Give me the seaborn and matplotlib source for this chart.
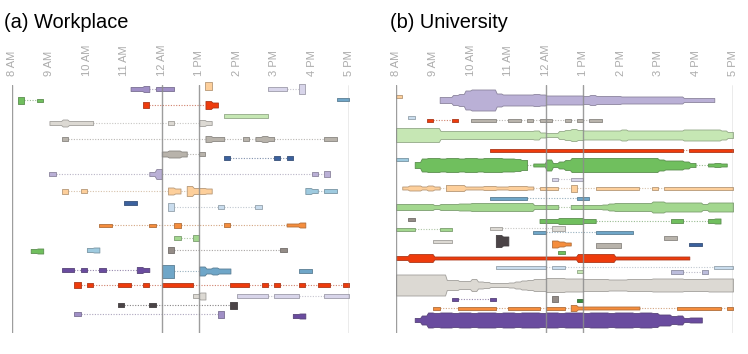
import numpy as np
import matplotlib
matplotlib.use("Agg")
import matplotlib.pyplot as plt
import matplotlib.colors as mcolors
import seaborn as sns

sns.set_theme(style="white")
plt.rcParams["font.family"] = ["Liberation Sans", "DejaVu Sans"]

# ---------------- axis labels ----------------
hours = list(range(8, 18))
hour_labels = ["8 AM", "9 AM", "10 AM", "11 AM", "12 AM",
               "1 PM", "2 PM", "3 PM", "4 PM", "5 PM"]
marker_hours = [8, 12, 13, 17]
panel_titles = ["(a) Workplace", "(b) University"]
SLOTS_PER_HOUR = 6          # activity recorded in 10-minute slots from 8 AM

# ---------------- colours ----------------
LORANGE, ORANGE, RED = "#fdcf9b", "#f58d3d", "#ee3b0c"
GREEN, MGREEN, LGREEN, DGREEN = "#70bf5e", "#a3d78f", "#c6e7b4", "#3a8d3e"
BLUE, LBLUE, PBLUE, DBLUE = "#6fa6c8", "#9ecadf", "#c9dced", "#3b619e"
LAV, MPURPLE, DPURPLE, LLAV, PLAV = "#bab0d6", "#a08fc6", "#6a4c9f", "#d8d5ea", "#bcbddc"
LGRAY, GRAY, TAUPE, CHAR = "#dcd9d3", "#b8b3ab", "#948c87", "#4b4447"

# ---------------- (a) Workplace ----------------
# row position (from top), colour, segments = (first 10-min slot, activity per slot)
work_rows = [1, 4, 4, 14, 15, 20, 31, 38, 54, 69, 73, 89, 106, 106, 118, 122,
             140, 153, 166, 165, 165, 185, 186, 186, 200, 211, 211, 220, 229, 231]
work_colors = [LORANGE, MPURPLE, LLAV, BLUE, GREEN, RED, LGREEN, LGRAY, GRAY, GRAY,
               DBLUE, LAV, LORANGE, LBLUE, DBLUE, PBLUE, ORANGE, MGREEN, GREEN, LBLUE,
               TAUPE, DPURPLE, BLUE, BLUE, RED, LGRAY, LLAV, CHAR, MPURPLE, DPURPLE]
work_segments = [
    [(31, [8])],
    [(19, [4, 4, 6]), (23, [4, 4, 4])],
    [(41, [4, 4, 4]), (46, [10])],
    [(52, [3, 3])],
    [(1, [7]), (4, [3])],
    [(21, [6]), (31, [8, 5])],
    [(34, [4] * 7)],
    [(6, [4, 4, 7, 4, 4, 4, 4]), (25, [4]), (30, [6, 4])],
    [(8, [4]), (31, [6, 4, 4]), (37, [4]), (39, [4, 6, 4]), (50, [4, 4])],
    [(24, [5, 7, 7, 5]), (30, [4])],
    [(34, [4]), (42, [4]), (44, [4])],
    [(6, [4]), (22, [4, 10]), (48, [4]), (50, [6])],
    [(8, [5]), (11, [4]), (25, [7, 5]), (28, [10, 6, 6, 5])],
    [(47, [6, 4]), (50, [4, 4])],
    [(18, [4, 4])],
    [(25, [8]), (33, [4]), (39, [4])],
    [(14, [3, 3]), (22, [3]), (26, [5]), (34, [4]), (44, [3, 3, 5])],
    [(26, [4]), (29, [6])],
    [(3, [4, 5])],
    [(12, [4, 5])],
    [(25, [6]), (43, [4])],
    [(8, [4, 4]), (11, [4]), (14, [4]), (20, [6, 4])],
    [(24, [13, 13]), (30, [9, 5, 7, 5, 5])],
    [(46, [4, 4])],
    [(10, [6]), (12, [4]), (17, [4, 4]), (21, [4]), (24, [4] * 5), (35, [4] * 3),
     (40, [4]), (42, [4]), (46, [4]), (49, [4, 4]), (53, [4])],
    [(29, [4, 7])],
    [(36, [4] * 5), (42, [4] * 4), (50, [4] * 4)],
    [(17, [4]), (22, [4]), (35, [7])],
    [(10, [4]), (33, [7])],
    [(45, [4, 5])],
]

# ---------------- (b) University ----------------
uni_rows = [11, 15, 32, 35, 35, 50, 65, 74, 80, 94, 103, 113, 122, 134, 136, 144,
            143, 147, 156, 156, 159, 160, 153, 159, 167, 173, 182, 186, 187, 200,
            214, 214, 215, 223, 235]
uni_colors = [LORANGE, LAV, PBLUE, RED, GRAY, LGREEN, RED, LBLUE, GREEN, LLAV,
              LORANGE, BLUE, MGREEN, TAUPE, GREEN, MGREEN, LGRAY, BLUE, CHAR, LGRAY,
              ORANGE, GRAY, GRAY, DBLUE, GREEN, RED, PBLUE, LGREEN, PLAV, LGRAY,
              DPURPLE, TAUPE, DGREEN, ORANGE, DPURPLE]
uni_segments = [
    [(0, [3])],
    [(7, [6, 6, 10, 12, 19, 21, 21, 21, 21, 13, 11, 11, 11, 11, 11, 12, 11,
          9, 9, 9, 9, 9, 9, 8, 10, 8, 8, 8, 8] + [7] * 10 + [4] * 5)],
    [(2, [3])],
    [(5, [3]), (9, [3])],
    [(12, [3] * 4), (18, [3, 3]), (21, [3]), (23, [3, 3]), (27, [3]), (29, [3]), (31, [3, 3])],
    [(0, [14] * 7 + [8] * 15 + [9, 5, 4, 4, 8, 10, 12, 10] + [9] * 6 + [11]
      + [9] * 9 + [11] * 6 + [9, 6])],
    [(15, [3] * 31), (47, [3] * 7)],
    [(0, [3, 3])],
    [(3, [6, 13, 14, 14, 13, 14, 14, 13, 14, 14, 13, 14, 14, 14, 13, 13, 12, 10]),
     (22, [3, 3, 11, 4, 7, 10] + [14] * 14 + [11, 9, 9, 9, 7, 4]),
     (50, [3, 4, 3])],
    [(25, [3]), (28, [3, 3])],
    [(1, [3, 5, 5, 3, 5, 3]), (8, [6, 6, 6, 3, 3, 3, 4, 4, 3, 3, 4, 4, 4, 3]),
     (23, [3, 3, 3]), (28, [7]), (32, [3] * 7), (41, [3]), (43, [3] * 11)],
    [(15, [3] * 6), (29, [3, 3])],
    [(0, [6] * 6 + [4] + [6] * 3 + [7, 7] + [8] * 10 + [4] * 4),
     (28, [4] * 5 + [5, 7] + [8] * 6 + [11, 11] + [9] * 6 + [6] + [9] * 4)],
    [(2, [3])],
    [(23, [4, 4, 4, 6, 6, 6, 6, 4, 4]), (44, [4, 4]), (50, [4, 5])],
    [(0, [3, 3, 3]), (7, [3, 3])],
    [(15, [3, 3]), (25, [5, 5])],
    [(22, [3, 3]), (32, [3] * 6)],
    [(16, [12, 9])],
    [(6, [3, 3, 3])],
    [(25, [7, 5, 3])],
    [(32, [5] * 4)],
    [(43, [4, 4])],
    [(47, [3, 3])],
    [(26, [3])],
    [(0, [4, 4, 8, 8, 8, 8] + [3] * 23 + [8] * 6 + [3] * 12)],
    [(16, [3] * 8), (25, [3, 3]), (51, [3, 3, 3])],
    [(29, [3])],
    [(44, [4, 4]), (49, [4])],
    [(0, [21] * 8 + [10, 10, 8, 8, 12, 7, 6, 4, 4, 4, 5, 7, 9, 10, 12, 12, 14, 14, 14,
                     13, 13, 13, 12, 12, 12, 12, 11, 11, 11, 12, 12, 12, 12, 13, 13,
                     13, 13, 13, 12, 12, 12, 12, 13, 13, 13, 13])],
    [(9, [3]), (15, [3])],
    [(25, [6])],
    [(29, [3])],
    [(6, [3]), (10, [3] * 6), (18, [3] * 5), (24, [3, 3, 3]), (28, [6] + [3] * 10),
     (45, [3] * 7), (53, [3])],
    [(3, [4, 9] + [15, 14, 15, 15, 14, 15, 15, 14, 15, 15, 15, 14, 15, 15, 14, 15, 15,
                   15, 14, 15, 15, 14, 15, 15, 15, 14, 15, 15, 15, 14, 15, 15, 15, 14,
                   15, 15, 14] + [11, 11, 8, 9, 4, 5, 5])],
]


def mix(c1, c2, w):
    a = np.array(mcolors.to_rgb(c1))
    b = np.array(mcolors.to_rgb(c2))
    return tuple(a * (1 - w) + b * w)


def profile(start, vals, d=0.14):
    xs, ts = [], []
    n = len(vals)
    for i, t in enumerate(vals):
        k = start + i
        a = k + (d if i > 0 else 0.0)
        b = k + 1 - (d if i < n - 1 else 0.0)
        xs += [a, b]
        ts += [t, t]
    return np.array(xs, float), np.array(ts, float)


def to_hour(slot):
    return 8 + np.asarray(slot, float) / SLOTS_PER_HOUR


fig = plt.figure(figsize=(7.48, 3.54), dpi=100)
W, H = 748, 354
axes = [fig.add_axes([12 / W, 21 / H, 337 / W, 248 / H]),
        fig.add_axes([396 / W, 21 / H, 337 / W, 248 / H])]
panels = [(work_rows, work_colors, work_segments), (uni_rows, uni_colors, uni_segments)]

for ax, (rows, cols, segs), title, tx in zip(axes, panels, panel_titles, [4, 390]):
    ax.set_xlim(8, 17)
    ax.set_ylim(248, 0)
    ax.set_facecolor("none")
    sns.despine(ax=ax, left=True, bottom=True, top=True, right=True)
    ax.xaxis.tick_top()
    ax.set_xticks(hours)
    ax.set_xticklabels(hour_labels, rotation=90, color="#ababab", fontsize=8)
    ax.tick_params(axis="x", length=0, pad=6.5)
    ax.set_yticks([])
    ax.grid(False)
    for h in marker_hours:
        ax.axvline(h, color="#8c8c8c", lw=1.0, alpha=0.85, zorder=5)
    for lane, col, seglist in zip(rows, cols, segs):
        edge = mix(col, "#333333", 0.35)
        link = mix(col, "#b8b8b8", 0.55)
        for (s0, v0), (s1, v1) in zip(seglist[:-1], seglist[1:]):
            ax.plot(to_hour([s0 + len(v0), s1]), [lane, lane], ls=(0, (1, 1.4)),
                    lw=0.8, color=link, zorder=2, clip_on=False)
        for s, v in seglist:
            xs, ts = profile(s, v)
            ax.fill_between(to_hour(xs), lane - ts / 2, lane + ts / 2, facecolor=col,
                            edgecolor=edge, lw=0.6, zorder=3, clip_on=False)
    fig.text(tx / W, 1 - 28.5 / H, title, fontsize=14.4, color="black",
             ha="left", va="baseline")

fig.savefig("out.png", dpi=100)
